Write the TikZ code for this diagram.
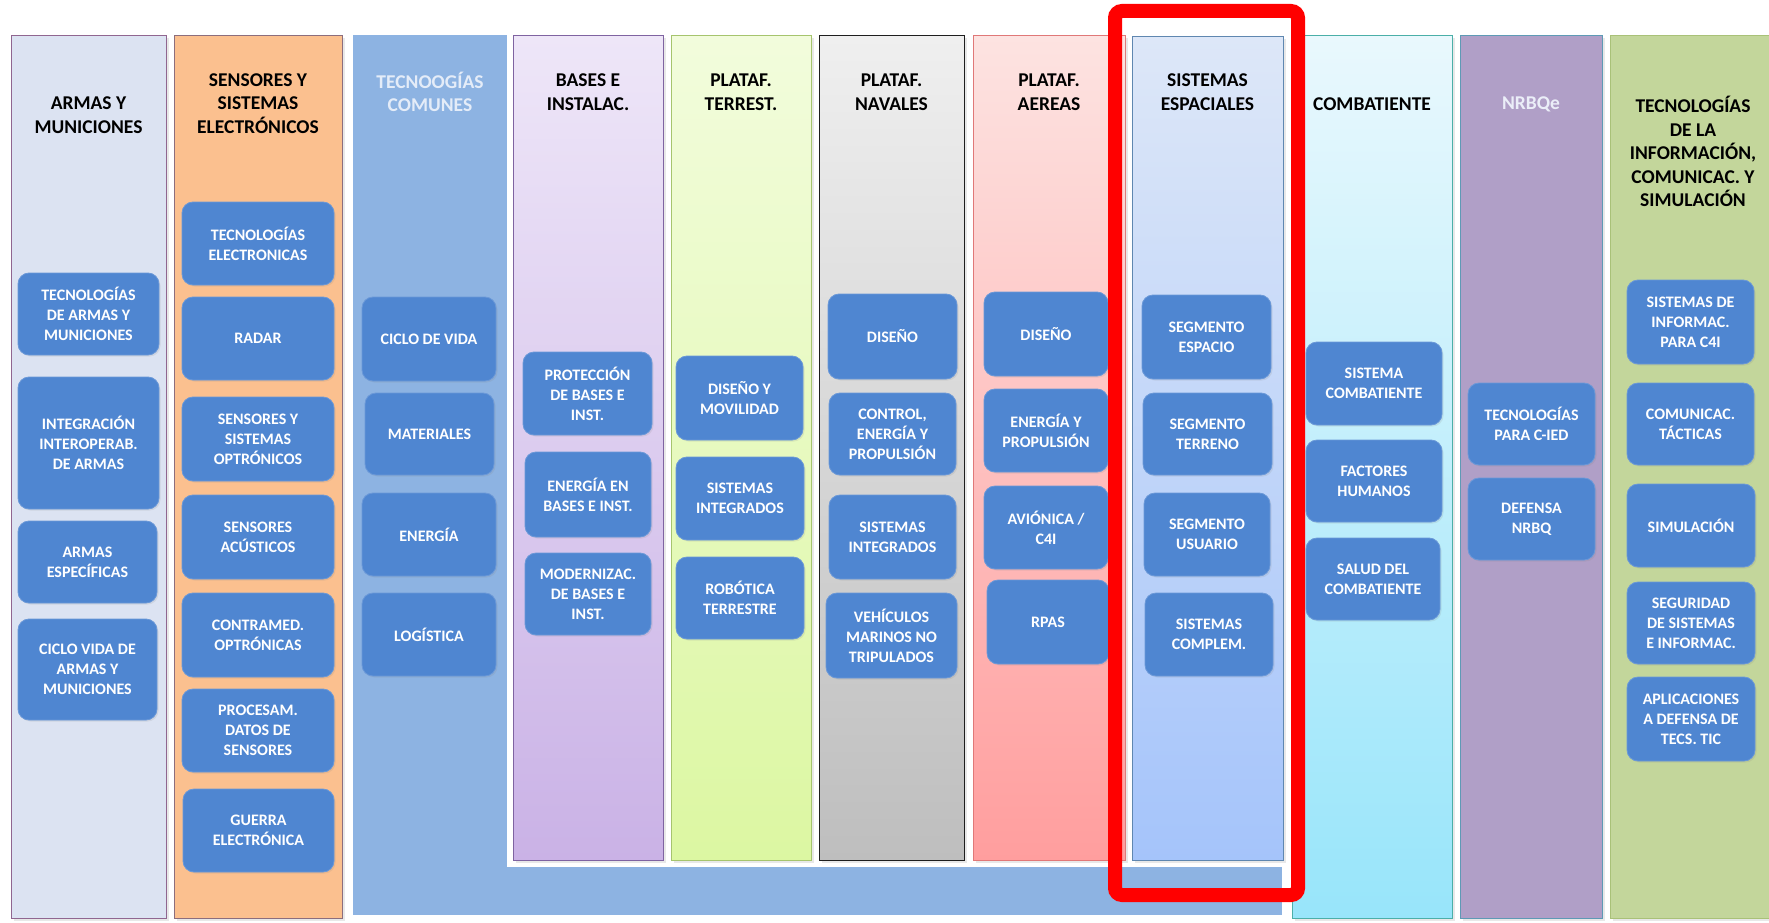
\documentclass[tikz,border=0pt]{standalone}
\usepackage{fontspec}
\setmainfont{Carlito}
\usetikzlibrary{shadows}
\definecolor{ibf}{HTML}{4F86D1}
\definecolor{ibd}{HTML}{6A98D8}
\definecolor{cTc}{HTML}{8DB3E2}
\begin{document}
\begin{tikzpicture}[x=1pt,y=-1pt,
  col/.style={anchor=north west, inner sep=0pt, line width=1.3pt,
    drop shadow={opacity=0.18, shadow xshift=2pt, shadow yshift=-2pt}},
  ib/.style={draw=ibd, fill=ibf, rounded corners=11pt, text=white,
    font=\bfseries\fontsize{16}{20}\selectfont, align=center, inner sep=2pt, line width=0.8pt,
    drop shadow={opacity=0.15, shadow xshift=1.5pt, shadow yshift=-1.5pt}},
  ttl/.style={font=\bfseries\fontsize{19.5}{23.5}\selectfont, align=center, text=black, inner sep=0pt},
]
\newcommand\ibx[5]{\node[ib, minimum width=#3pt, minimum height=#4pt] (#1) at (#2) {#5};}
\useasboundingbox (0,0) rectangle (1769,923);
\fill[white] (0,0) rectangle (1769,923);
\begin{scope}
\clip (0,0) rectangle (1769,923);
% columns
\node[col, draw=black!45!violet!60, fill={rgb,255:red,220;green,227;blue,242}, minimum width=155pt, minimum height=883pt] (col1) at (11,35) {};
\node[col, draw={rgb,255:red,140;green,110;blue,125}, fill={rgb,255:red,251;green,192;blue,143}, minimum width=168pt, minimum height=883pt] (col2) at (174,35) {};
\node[anchor=north west, inner sep=0pt, fill=cTc, minimum width=929pt, minimum height=880pt] (col3) at (353,35) {};
\node[anchor=north west, inner sep=0pt, fill=white, minimum width=783pt, minimum height=832pt] (back) at (507,35) {};
\node[col, draw={rgb,255:red,127;green,99;blue,161}, top color={rgb,255:red,238;green,230;blue,248}, bottom color={rgb,255:red,202;green,178;blue,230}, minimum width=150pt, minimum height=825pt] (col4) at (513,35) {};
\node[col, draw={rgb,255:red,166;green,196;blue,110}, top color={rgb,255:red,242;green,252;blue,220}, bottom color={rgb,255:red,220;green,247;blue,162}, minimum width=140pt, minimum height=825pt] (col5) at (671,35) {};
\node[col, draw={rgb,255:red,30;green,30;blue,30}, top color={rgb,255:red,239;green,239;blue,239}, bottom color={rgb,255:red,190;green,190;blue,190}, minimum width=145pt, minimum height=825pt] (col6) at (819,35) {};
\node[col, draw={rgb,255:red,224;green,120;blue,120}, top color={rgb,255:red,253;green,227;blue,225}, bottom color={rgb,255:red,255;green,158;blue,158}, minimum width=152pt, minimum height=825pt] (col7) at (973,35) {};
\node[col, draw={rgb,255:red,95;green,135;blue,176}, top color={rgb,255:red,221;green,231;blue,248}, bottom color={rgb,255:red,165;green,196;blue,250}, minimum width=151pt, minimum height=824pt] (col8) at (1132,36) {};
\node[col, draw={rgb,255:red,75;green,175;blue,168}, top color={rgb,255:red,233;green,248;blue,253}, bottom color={rgb,255:red,152;green,229;blue,250}, minimum width=160pt, minimum height=883pt] (col9) at (1292,35) {};
\node[col, draw={rgb,255:red,94;green,154;blue,181}, fill={rgb,255:red,176;green,159;blue,199}, minimum width=142pt, minimum height=883pt] (col10) at (1460,35) {};
\node[col, draw={rgb,255:red,169;green,193;blue,120}, fill={rgb,255:red,195;green,214;blue,155}, minimum width=170pt, minimum height=883pt] (col11) at (1610,35) {};
\end{scope}
% titles
\node[ttl] (t1) at (88.5,115) {ARMAS Y\\MUNICIONES};
\node[ttl] (t2) at (258,103.5) {SENSORES Y\\SISTEMAS\\ELECTRÓNICOS};
\node[ttl, text={rgb,255:red,228;green,236;blue,248}] (t3) at (430,92) {TECNOOGÍAS\\COMUNES};
\node[ttl] (t4) at (588,92) {BASES E\\INSTALAC.};
\node[ttl] (t5) at (741,92) {PLATAF.\\TERREST.};
\node[ttl] (t6) at (891.5,92) {PLATAF.\\NAVALES};
\node[ttl] (t7) at (1049,92) {PLATAF.\\AEREAS};
\node[ttl] (t8) at (1207.5,92) {SISTEMAS\\ESPACIALES};
\node[ttl] (t9) at (1372,104) {COMBATIENTE};
\node[ttl, text={rgb,255:red,235;green,238;blue,248}] (t10) at (1531,104) {NRBQe};
\node[ttl] (t11) at (1693,151.5) {TECNOLOGÍAS\\DE LA\\INFORMACIÓN,\\COMUNICAC. Y\\SIMULACIÓN};
% column 1
\ibx{a1}{88.5,314}{141}{82}{TECNOLOGÍAS\\DE ARMAS Y\\MUNICIONES}
\ibx{a2}{88.5,443}{141}{132}{INTEGRACIÓN\\INTEROPERAB.\\DE ARMAS}
\ibx{a3}{87.5,562}{139}{82}{ARMAS\\ESPECÍFICAS}
\ibx{a4}{87.5,669.5}{139}{101}{CICLO VIDA DE\\ARMAS Y\\MUNICIONES}
% column 2
\ibx{b1}{258,243.5}{152}{83}{TECNOLOGÍAS\\ELECTRONICAS}
\ibx{b2}{258,338.5}{152}{83}{RADAR}
\ibx{b3}{258,439}{152}{84}{SENSORES Y\\SISTEMAS\\OPTRÓNICOS}
\ibx{b4}{258,537}{152}{84}{SENSORES\\ACÚSTICOS}
\ibx{b5}{258,635}{152}{84}{CONTRAMED.\\OPTRÓNICAS}
\ibx{b6}{258,730.5}{152}{83}{PROCESAM.\\DATOS DE\\SENSORES}
\ibx{b7}{258.5,830.5}{151}{83}{GUERRA\\ELECTRÓNICA}
% column 3
\ibx{c1}{429,339}{134}{84}{CICLO DE VIDA}
\ibx{c2}{429.5,434}{129}{82}{MATERIALES}
\ibx{c3}{429,534.5}{134}{83}{ENERGÍA}
\ibx{c4}{429,634.5}{134}{83}{LOGÍSTICA}
% column 4
\ibx{d1}{587.5,393.5}{129}{83}{PROTECCIÓN\\DE BASES E\\INST.}
\ibx{d2}{588,494.5}{126}{85}{ENERGÍA EN\\BASES E INST.}
\ibx{d3}{588,594}{126}{82}{MODERNIZAC.\\DE BASES E\\INST.}
% column 5
\ibx{e1}{739.5,398}{127}{84}{DISEÑO Y\\MOVILIDAD}
\ibx{e2}{740,498.5}{128}{83}{SISTEMAS\\INTEGRADOS}
\ibx{e3}{740,598}{128}{82}{ROBÓTICA\\TERRESTRE}
% column 6
\ibx{f1}{892.5,336.5}{129}{85}{DISEÑO}
\ibx{f2}{892.5,434}{127}{82}{CONTROL,\\ENERGÍA Y\\PROPULSIÓN}
\ibx{f3}{892.5,537}{127}{84}{SISTEMAS\\INTEGRADOS}
\ibx{f4}{891.5,635.5}{131}{85}{VEHÍCULOS\\MARINOS NO\\TRIPULADOS}
% column 7
\ibx{g1}{1046,334}{124}{84}{DISEÑO}
\ibx{g2}{1046,430.5}{124}{83}{ENERGÍA Y\\PROPULSIÓN}
\ibx{g3}{1046,527.5}{124}{83}{AVIÓNICA /\\C4I}
\ibx{g4}{1048,622}{122}{84}{RPAS}
% column 8
\ibx{h1}{1206.5,337}{129}{84}{SEGMENTO\\ESPACIO}
\ibx{h2}{1207.5,434}{129}{82}{SEGMENTO\\TERRENO}
\ibx{h3}{1207,534.5}{126}{83}{SEGMENTO\\USUARIO}
\ibx{h4}{1209,634.5}{128}{83}{SISTEMAS\\COMPLEM.}
% column 9
\ibx{i1}{1374,383.5}{136}{83}{SISTEMA\\COMBATIENTE}
\ibx{i2}{1374,481}{136}{82}{FACTORES\\HUMANOS}
\ibx{i3}{1373,579}{134}{82}{SALUD DEL\\COMBATIENTE}
% column 10
\ibx{j1}{1531.5,424}{127}{82}{TECNOLOGÍAS\\PARA C-IED}
\ibx{j2}{1531.5,519}{127}{82}{DEFENSA\\NRBQ}
% column 11
\ibx{k1}{1690.5,322}{127}{84}{SISTEMAS DE\\INFORMAC.\\PARA C4I}
\ibx{k2}{1690.5,424}{127}{82}{COMUNICAC.\\TÁCTICAS}
\ibx{k3}{1691,525.5}{128}{83}{SIMULACIÓN}
\ibx{k4}{1691,623}{128}{82}{SEGURIDAD\\DE SISTEMAS\\E INFORMAC.}
\ibx{k5}{1691,719}{128}{84}{APLICACIONES\\A DEFENSA DE\\TECS. TIC}
% highlight
\node[draw=red, line width=14pt, rounded corners=7pt, inner sep=0pt, minimum width=183pt, minimum height=884pt, anchor=north west] (hl) at (1108,4) {};
\end{tikzpicture}
\end{document}
